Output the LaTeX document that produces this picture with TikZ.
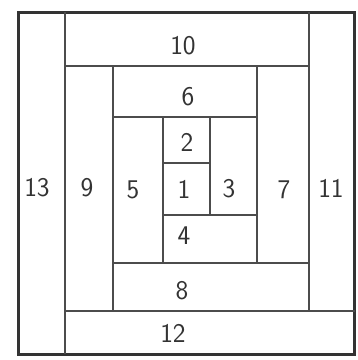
\documentclass[tikz,border=0pt]{standalone}
\begin{document}
\begin{tikzpicture}[x=1pt,y=-1pt,
  seam/.style={draw=black!70,line width=1.8pt},
  frame/.style={draw=black!80,line width=3pt},
  num/.style={font=\fontsize{27}{27}\selectfont\sffamily,text=black!80,inner sep=0pt}]
\useasboundingbox (0,0) rectangle (358,360);
% frame
\draw[frame] (19,12) rectangle (355,354);
% seams
\draw[seam] (65,12) -- (65,354);          % 13 | rest
\draw[seam] (65,66) -- (309,66);          % 10 bottom
\draw[seam] (309,12) -- (309,311);        % 11 left
\draw[seam] (65,311) -- (355,311);        % 12 top
\draw[seam] (113,66) -- (113,311);        % 9 right
\draw[seam] (113,263) -- (309,263);       % 8 top
\draw[seam] (257,66) -- (257,263);        % 7 left
\draw[seam] (113,117) -- (257,117);       % 6 bottom
\draw[seam] (163,117) -- (163,263);       % 5 right
\draw[seam] (163,215) -- (257,215);       % 4 top
\draw[seam] (210,117) -- (210,215);       % 3 left
\draw[seam] (163,163) -- (210,163);       % 2|1
% labels
\node[num] (n1)  at (184,189) {1};
\node[num] (n2)  at (187,142) {2};
\node[num] (n3)  at (229,189) {3};
\node[num] (n4)  at (184,236) {4};
\node[num] (n5)  at (133,190) {5};
\node[num] (n6)  at (188,97) {6};
\node[num] (n7)  at (284,190) {7};
\node[num] (n8)  at (182,291) {8};
\node[num] (n9)  at (87,188) {9};
\node[num] (n10) at (183,46) {10};
\node[num] (n11) at (331,188) {11};
\node[num] (n12) at (173,333) {12};
\node[num] (n13) at (37,188) {13};
\end{tikzpicture}
\end{document}
